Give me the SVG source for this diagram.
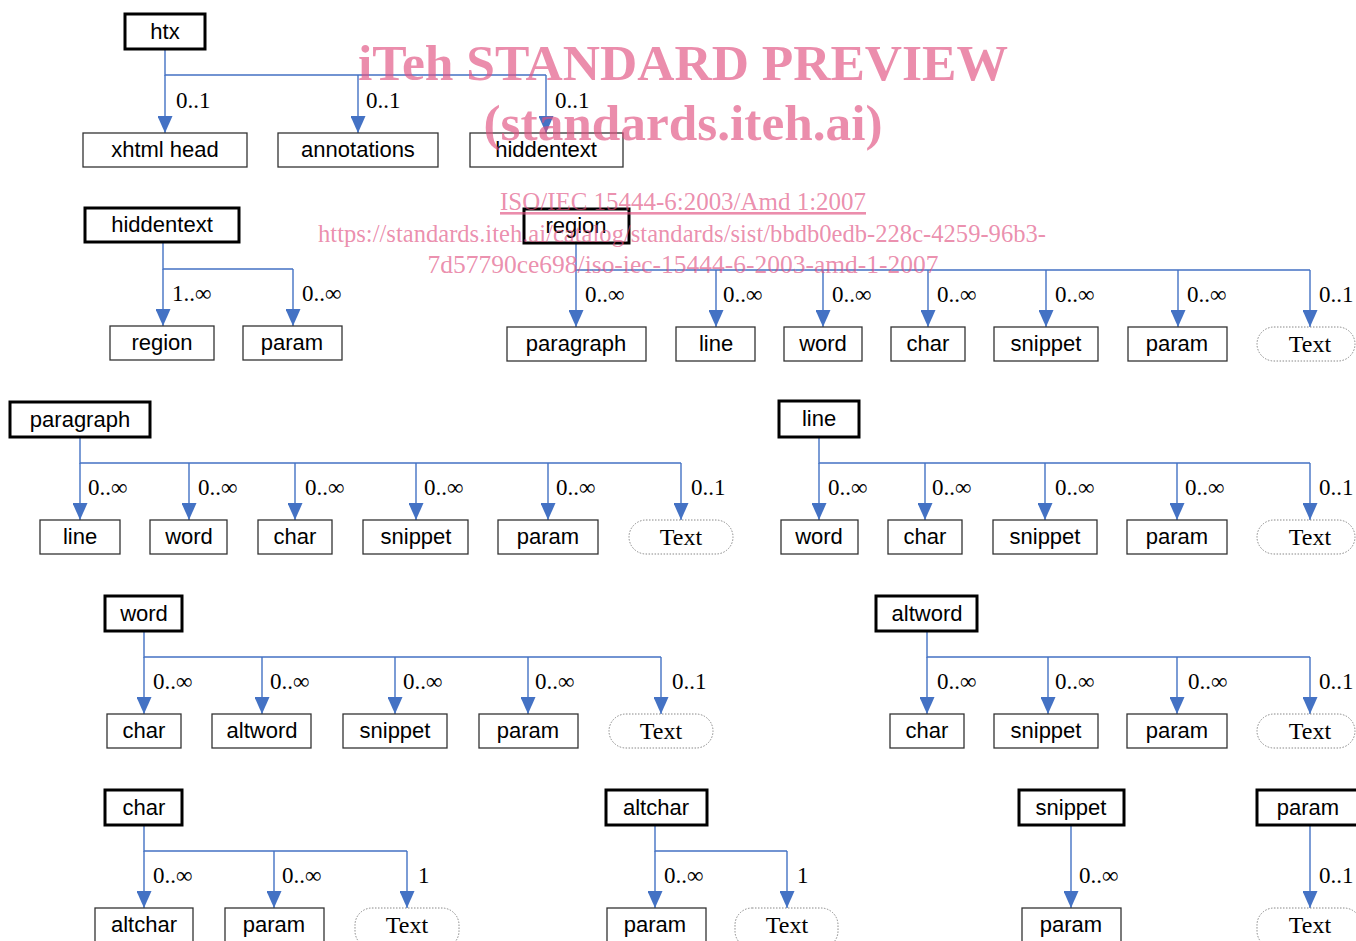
<svg xmlns="http://www.w3.org/2000/svg" width="1356" height="941" viewBox="0 0 1356 941">
<style>
.bg{fill:#fff}
.hd{fill:#fff;stroke:#000;stroke-width:3}
.ch{fill:#fff;stroke:#333;stroke-width:1.3}
.tx{fill:#fff;stroke:#888;stroke-width:1;stroke-dasharray:1.5 1.5}
.nt{font-family:"Liberation Sans",Arial,sans-serif;font-size:22px;fill:#000;text-anchor:middle}
.tt{font-family:"Liberation Serif","Times New Roman",serif;font-size:24px;fill:#000;text-anchor:middle}
.lb{font-family:"Liberation Serif","Times New Roman",serif;font-size:23px;fill:#000}
.cn{fill:none;stroke:#4472c4;stroke-width:1.4}
.ar{fill:none;stroke:#4472c4;stroke-width:1.4;marker-end:url(#ah)}
.wm{font-family:"Liberation Serif","Times New Roman",serif;fill:#e0507f;fill-opacity:0.65;text-anchor:middle}
</style>
<defs>
<marker id="ah" markerUnits="userSpaceOnUse" markerWidth="17" markerHeight="15" viewBox="0 0 17 15" refX="17" refY="7.5" orient="auto">
<path d="M0,0 L17,7.5 L0,15 z" fill="#4472c4"/>
</marker>
</defs>
<rect class="bg" x="0" y="0" width="1356" height="941"/>

<g id="connectors">
<path class="cn" d="M165,49 V75 H546"/>
<path class="ar" d="M165,75 V133"/>
<path class="ar" d="M358,75 V133"/>
<path class="ar" d="M546,75 V133"/>
<path class="cn" d="M163,242 V269 H293"/>
<path class="ar" d="M163,269 V326"/>
<path class="ar" d="M293,269 V326"/>
<path class="cn" d="M576,243 V270 H1310"/>
<path class="ar" d="M576,270 V327"/>
<path class="ar" d="M716,270 V327"/>
<path class="ar" d="M823,270 V327"/>
<path class="ar" d="M928,270 V327"/>
<path class="ar" d="M1046,270 V327"/>
<path class="ar" d="M1178,270 V327"/>
<path class="ar" d="M1310,270 V327"/>
<path class="cn" d="M80,437 V463 H681"/>
<path class="ar" d="M80,463 V520"/>
<path class="ar" d="M189,463 V520"/>
<path class="ar" d="M295,463 V520"/>
<path class="ar" d="M416,463 V520"/>
<path class="ar" d="M548,463 V520"/>
<path class="ar" d="M681,463 V520"/>
<path class="cn" d="M819,437 V463 H1310"/>
<path class="ar" d="M819,463 V520"/>
<path class="ar" d="M925,463 V520"/>
<path class="ar" d="M1045,463 V520"/>
<path class="ar" d="M1177,463 V520"/>
<path class="ar" d="M1310,463 V520"/>
<path class="cn" d="M144,631 V657 H661"/>
<path class="ar" d="M144,657 V714"/>
<path class="ar" d="M262,657 V714"/>
<path class="ar" d="M395,657 V714"/>
<path class="ar" d="M528,657 V714"/>
<path class="ar" d="M661,657 V714"/>
<path class="cn" d="M927,631 V657 H1310"/>
<path class="ar" d="M927,657 V714"/>
<path class="ar" d="M1048,657 V714"/>
<path class="ar" d="M1177,657 V714"/>
<path class="ar" d="M1310,657 V714"/>
<path class="cn" d="M144,825 V851 H407"/>
<path class="ar" d="M144,851 V908"/>
<path class="ar" d="M274,851 V908"/>
<path class="ar" d="M407,851 V908"/>
<path class="cn" d="M655,825 V851 H787"/>
<path class="ar" d="M655,851 V908"/>
<path class="ar" d="M787,851 V908"/>
<path class="ar" d="M1071,825 V908"/>
<path class="ar" d="M1310,825 V908"/>
</g>

<g id="labels">
<text class="lb" x="176" y="108">0..1</text>
<text class="lb" x="366" y="108">0..1</text>
<text class="lb" x="555" y="108">0..1</text>
<text class="lb" x="172" y="301">1..∞</text>
<text class="lb" x="302" y="301">0..∞</text>
<text class="lb" x="585" y="302">0..∞</text>
<text class="lb" x="723" y="302">0..∞</text>
<text class="lb" x="832" y="302">0..∞</text>
<text class="lb" x="937" y="302">0..∞</text>
<text class="lb" x="1055" y="302">0..∞</text>
<text class="lb" x="1187" y="302">0..∞</text>
<text class="lb" x="1319" y="302">0..1</text>
<text class="lb" x="88" y="495">0..∞</text>
<text class="lb" x="198" y="495">0..∞</text>
<text class="lb" x="305" y="495">0..∞</text>
<text class="lb" x="424" y="495">0..∞</text>
<text class="lb" x="556" y="495">0..∞</text>
<text class="lb" x="691" y="495">0..1</text>
<text class="lb" x="828" y="495">0..∞</text>
<text class="lb" x="932" y="495">0..∞</text>
<text class="lb" x="1055" y="495">0..∞</text>
<text class="lb" x="1185" y="495">0..∞</text>
<text class="lb" x="1319" y="495">0..1</text>
<text class="lb" x="153" y="689">0..∞</text>
<text class="lb" x="270" y="689">0..∞</text>
<text class="lb" x="403" y="689">0..∞</text>
<text class="lb" x="535" y="689">0..∞</text>
<text class="lb" x="672" y="689">0..1</text>
<text class="lb" x="937" y="689">0..∞</text>
<text class="lb" x="1055" y="689">0..∞</text>
<text class="lb" x="1188" y="689">0..∞</text>
<text class="lb" x="1319" y="689">0..1</text>
<text class="lb" x="153" y="883">0..∞</text>
<text class="lb" x="282" y="883">0..∞</text>
<text class="lb" x="418" y="883">1</text>
<text class="lb" x="664" y="883">0..∞</text>
<text class="lb" x="797" y="883">1</text>
<text class="lb" x="1079" y="883">0..∞</text>
<text class="lb" x="1319" y="883">0..1</text>
</g>

<g id="htx">
<rect class="hd" x="125" y="14" width="80" height="35"/><text class="nt" x="165" y="39">htx</text>
<rect class="ch" x="83" y="133" width="164" height="34"/><text class="nt" x="165" y="157">xhtml head</text>
<rect class="ch" x="278" y="133" width="160" height="34"/><text class="nt" x="358" y="157">annotations</text>
<rect class="ch" x="470" y="133" width="153" height="34"/><text class="nt" x="546" y="157">hiddentext</text>
</g>

<g id="hiddentext">
<rect class="hd" x="85" y="208" width="154" height="34"/><text class="nt" x="162" y="232">hiddentext</text>
<rect class="ch" x="110" y="326" width="104" height="34"/><text class="nt" x="162" y="350">region</text>
<rect class="ch" x="243" y="326" width="99" height="34"/><text class="nt" x="292" y="350">param</text>
</g>

<g id="region">
<rect class="hd" x="524" y="209" width="105" height="34"/><text class="nt" x="576" y="233">region</text>
<rect class="ch" x="507" y="327" width="139" height="34"/><text class="nt" x="576" y="351">paragraph</text>
<rect class="ch" x="676" y="327" width="79" height="34"/><text class="nt" x="716" y="351">line</text>
<rect class="ch" x="784" y="327" width="78" height="34"/><text class="nt" x="823" y="351">word</text>
<rect class="ch" x="891" y="327" width="74" height="34"/><text class="nt" x="928" y="351">char</text>
<rect class="ch" x="994" y="327" width="104" height="34"/><text class="nt" x="1046" y="351">snippet</text>
<rect class="ch" x="1128" y="327" width="99" height="34"/><text class="nt" x="1177" y="351">param</text>
<rect class="tx" x="1257" y="327" width="98" height="34" rx="17"/><text class="tt" x="1310" y="352">Text</text>
</g>

<g id="paragraph">
<rect class="hd" x="10" y="402" width="140" height="35"/><text class="nt" x="80" y="427">paragraph</text>
<rect class="ch" x="40" y="520" width="80" height="34"/><text class="nt" x="80" y="544">line</text>
<rect class="ch" x="150" y="520" width="77" height="34"/><text class="nt" x="189" y="544">word</text>
<rect class="ch" x="258" y="520" width="74" height="34"/><text class="nt" x="295" y="544">char</text>
<rect class="ch" x="363" y="520" width="105" height="34"/><text class="nt" x="416" y="544">snippet</text>
<rect class="ch" x="498" y="520" width="100" height="34"/><text class="nt" x="548" y="544">param</text>
<rect class="tx" x="629" y="520" width="104" height="34" rx="17"/><text class="tt" x="681" y="545">Text</text>
</g>

<g id="line">
<rect class="hd" x="779" y="401" width="80" height="36"/><text class="nt" x="819" y="426">line</text>
<rect class="ch" x="781" y="520" width="77" height="34"/><text class="nt" x="819" y="544">word</text>
<rect class="ch" x="888" y="520" width="74" height="34"/><text class="nt" x="925" y="544">char</text>
<rect class="ch" x="993" y="520" width="104" height="34"/><text class="nt" x="1045" y="544">snippet</text>
<rect class="ch" x="1127" y="520" width="100" height="34"/><text class="nt" x="1177" y="544">param</text>
<rect class="tx" x="1257" y="520" width="98" height="34" rx="17"/><text class="tt" x="1310" y="545">Text</text>
</g>

<g id="word">
<rect class="hd" x="105" y="596" width="77" height="35"/><text class="nt" x="144" y="621">word</text>
<rect class="ch" x="107" y="714" width="74" height="34"/><text class="nt" x="144" y="738">char</text>
<rect class="ch" x="212" y="714" width="99" height="34"/><text class="nt" x="262" y="738">altword</text>
<rect class="ch" x="343" y="714" width="104" height="34"/><text class="nt" x="395" y="738">snippet</text>
<rect class="ch" x="479" y="714" width="99" height="34"/><text class="nt" x="528" y="738">param</text>
<rect class="tx" x="609" y="714" width="104" height="34" rx="17"/><text class="tt" x="661" y="739">Text</text>
</g>

<g id="altword">
<rect class="hd" x="876" y="596" width="101" height="35"/><text class="nt" x="927" y="621">altword</text>
<rect class="ch" x="890" y="714" width="74" height="34"/><text class="nt" x="927" y="738">char</text>
<rect class="ch" x="994" y="714" width="104" height="34"/><text class="nt" x="1046" y="738">snippet</text>
<rect class="ch" x="1127" y="714" width="100" height="34"/><text class="nt" x="1177" y="738">param</text>
<rect class="tx" x="1257" y="714" width="98" height="34" rx="17"/><text class="tt" x="1310" y="739">Text</text>
</g>

<g id="char">
<rect class="hd" x="105" y="790" width="77" height="35"/><text class="nt" x="144" y="815">char</text>
<rect class="ch" x="95" y="908" width="98" height="40"/><text class="nt" x="144" y="932">altchar</text>
<rect class="ch" x="225" y="908" width="99" height="40"/><text class="nt" x="274" y="932">param</text>
<rect class="tx" x="355" y="908" width="104" height="40" rx="17"/><text class="tt" x="407" y="933">Text</text>
</g>

<g id="altchar">
<rect class="hd" x="606" y="790" width="101" height="35"/><text class="nt" x="656" y="815">altchar</text>
<rect class="ch" x="607" y="908" width="99" height="40"/><text class="nt" x="655" y="932">param</text>
<rect class="tx" x="735" y="908" width="103" height="40" rx="17"/><text class="tt" x="787" y="933">Text</text>
</g>

<g id="snippet">
<rect class="hd" x="1019" y="790" width="105" height="35"/><text class="nt" x="1071" y="815">snippet</text>
<rect class="ch" x="1022" y="908" width="99" height="40"/><text class="nt" x="1071" y="932">param</text>
</g>

<g id="param">
<rect class="hd" x="1257" y="790" width="104" height="35"/><text class="nt" x="1308" y="815">param</text>
<rect class="tx" x="1257" y="908" width="104" height="40" rx="17"/><text class="tt" x="1310" y="933">Text</text>
</g>

<g id="watermark">
<text class="wm" x="683" y="80" font-size="51" font-weight="bold" textLength="650" lengthAdjust="spacingAndGlyphs">iTeh STANDARD PREVIEW</text>
<text class="wm" x="683" y="140" font-size="51" font-weight="bold" textLength="399" lengthAdjust="spacingAndGlyphs">(standards.iteh.ai)</text>
<text class="wm" x="683" y="210" font-size="26" text-decoration="underline" textLength="366" lengthAdjust="spacingAndGlyphs">ISO/IEC 15444-6:2003/Amd 1:2007</text>
<text class="wm" x="682" y="242" font-size="26" textLength="728" lengthAdjust="spacingAndGlyphs">https://standards.iteh.ai/catalog/standards/sist/bbdb0edb-228c-4259-96b3-</text>
<text class="wm" x="683" y="273" font-size="26" textLength="511" lengthAdjust="spacingAndGlyphs">7d57790ce698/iso-iec-15444-6-2003-amd-1-2007</text>
</g>
</svg>
